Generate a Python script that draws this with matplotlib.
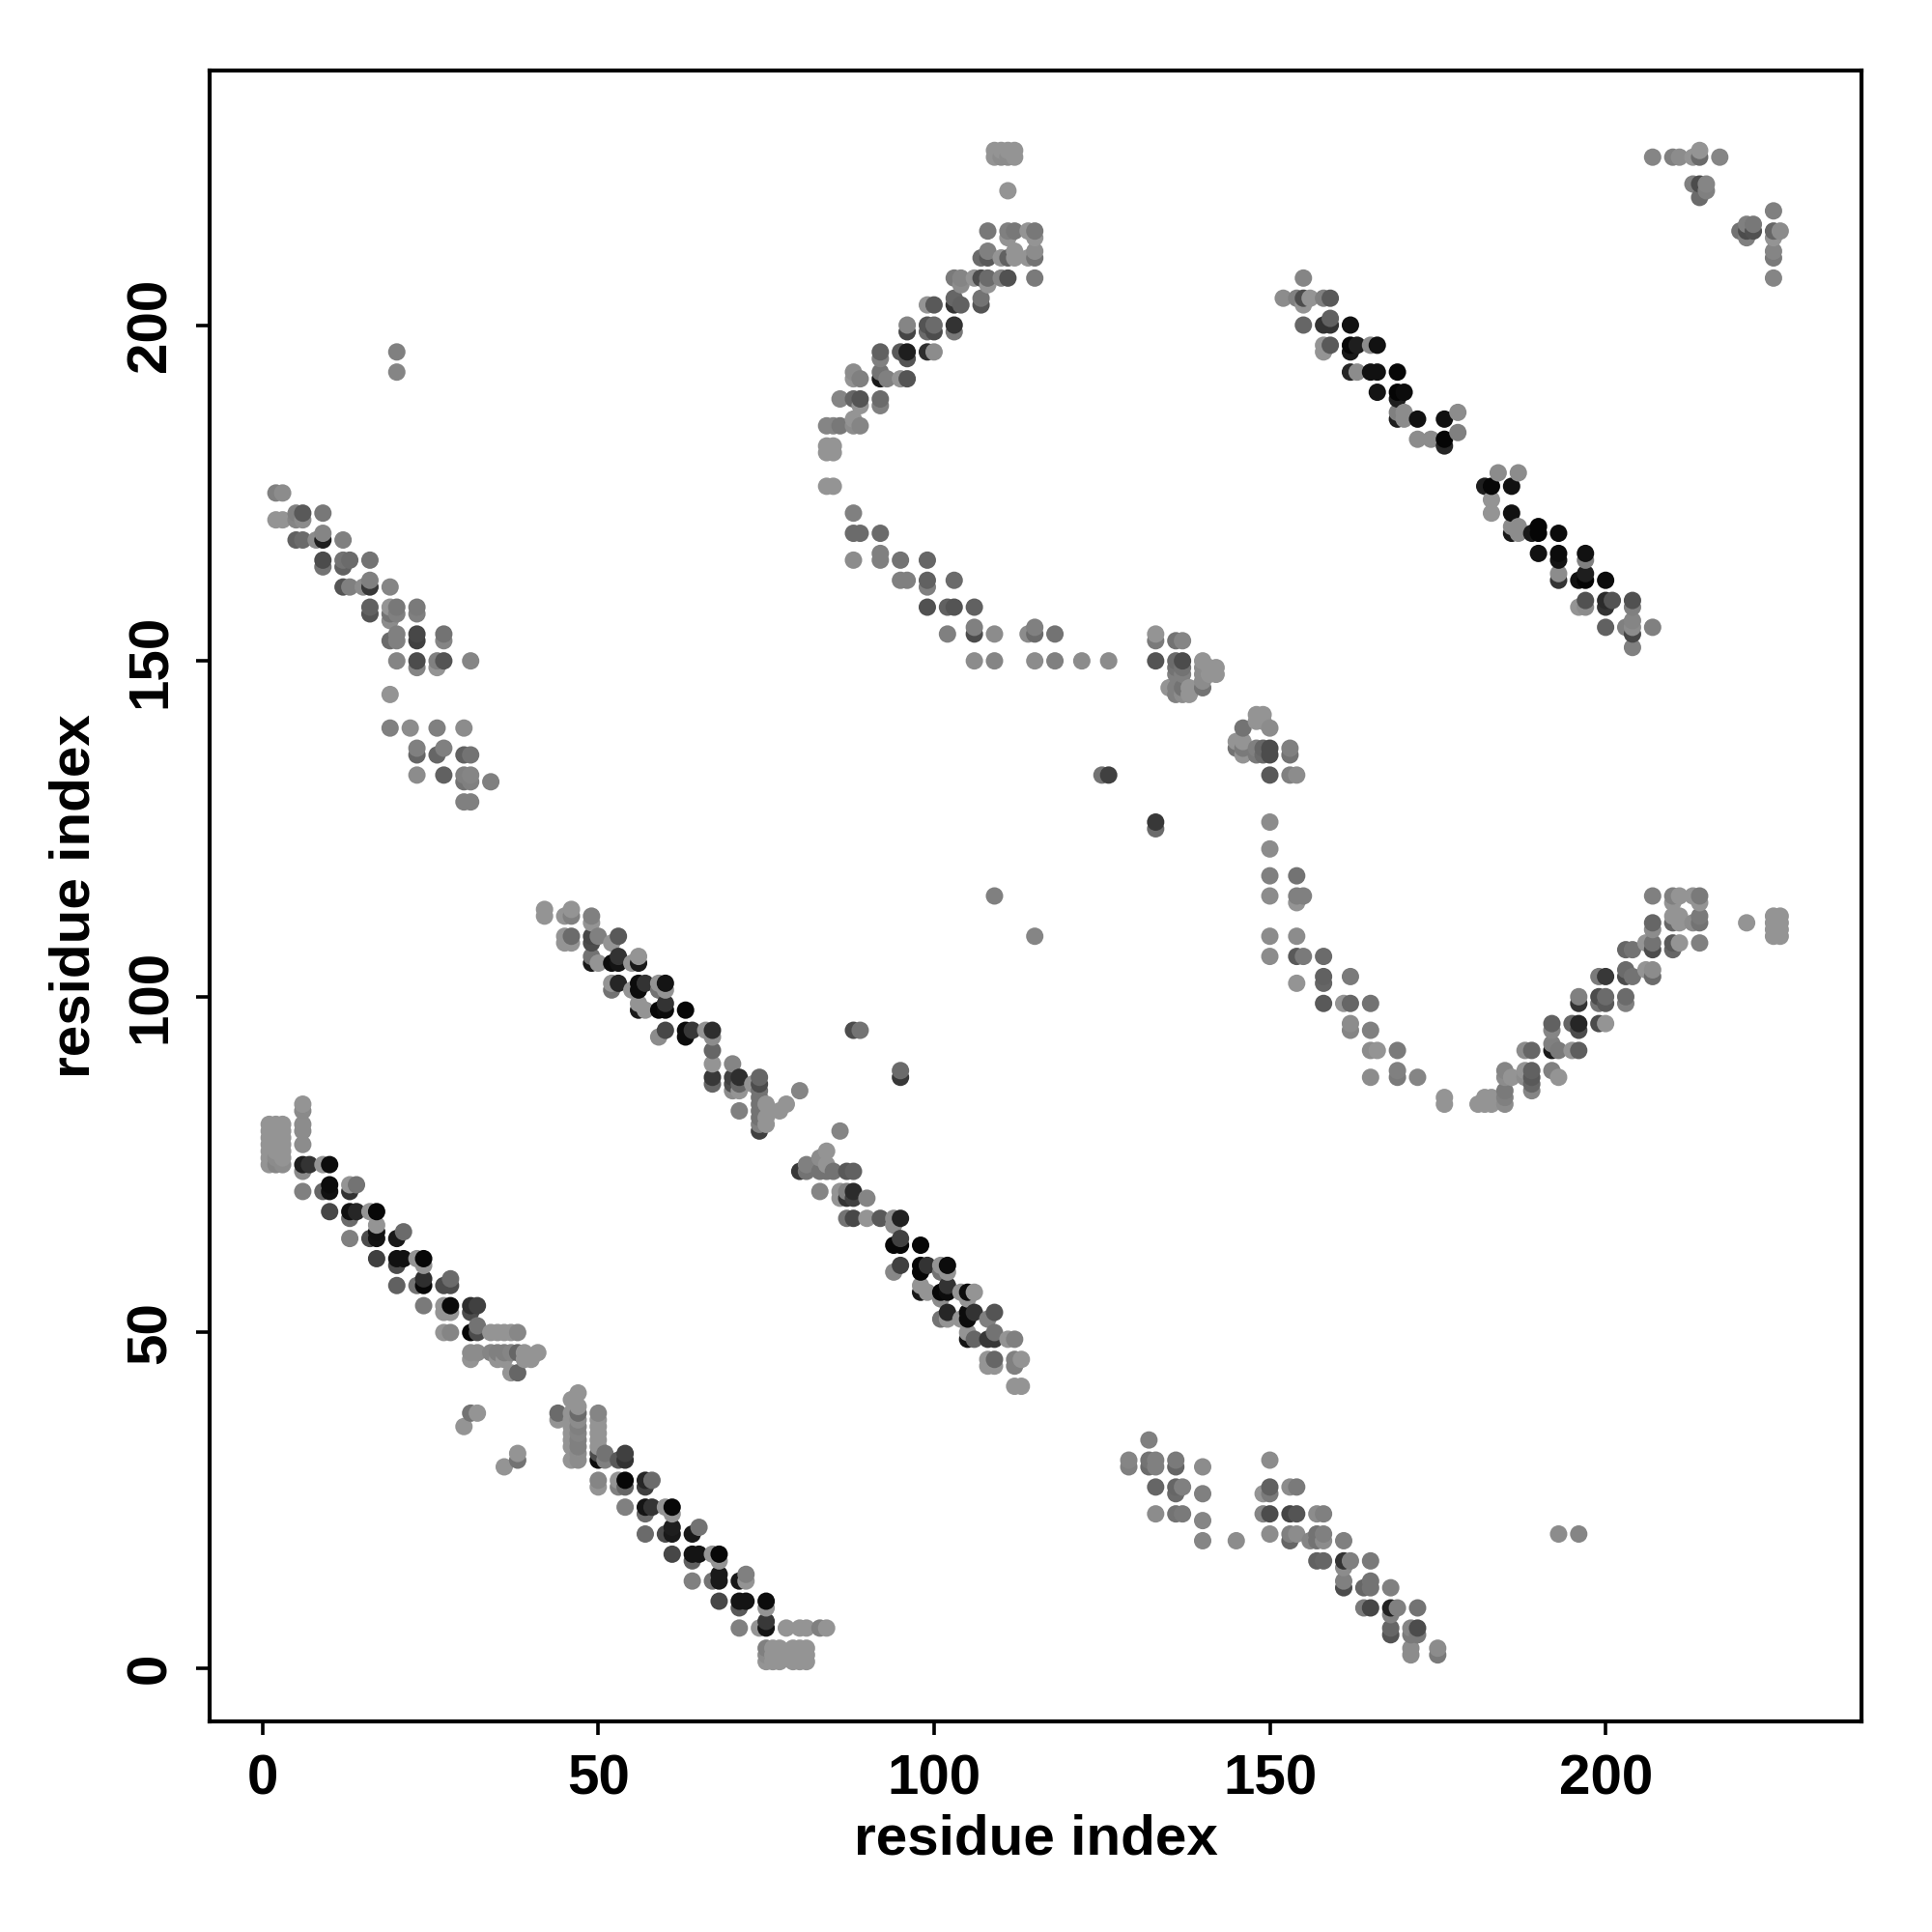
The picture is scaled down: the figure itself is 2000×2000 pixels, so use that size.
import numpy as np
import matplotlib
matplotlib.use("Agg")
import matplotlib.pyplot as plt

plt.rcParams['font.family'] = ['Liberation Sans', 'DejaVu Sans']
plt.rcParams['font.weight'] = 'bold'

L = .58  # lightest grey used by most weak contacts

band_lower_a = [
    (1,81,L),(2,81,L),(3,81,L),(1,80,L),(2,80,L),(3,80,L),(1,79,L),(2,79,L),(3,79,L),(1,78,L),(2,78,L),(3,78,L),
    (1,77,L),(2,77,L),(3,77,L),(1,76,L),(2,76,.55),(3,76,L),(1,75,L),(2,75,.52),(3,75,.55),
    (6,84,L),(6,83,.54),(6,81,.55),(6,80,.55),(6,78,.55),(6,75,.12),(6,74,.54),(6,71,.5),
    (7,75,.2),(9,75,L),(10,75,.05),(10,72,.05),(10,71,.07),(9,71,.4),(10,68,.28),
    (13,72,L),(13,71,.2),(14,72,.45),(13,68,.07),(14,68,.15),(13,67,.42),(16,68,L),(17,68,.03),(17,66,L),
    (17,65,.07),(17,64,.08),(16,64,.3),(13,64,.5),(20,64,.1),(21,65,.42),(17,61,.25),(20,61,.07),(21,61,.07),
    (20,60,.3),(23,61,L),(24,61,.03),(24,60,L),(20,57,.38),(23,57,.45),(24,57,.03),(24,58,.18),
    (27,57,.3),(28,58,.42),(28,57,.3),(24,54,.48),(27,54,L),(28,54,.04),(27,53,L),(28,53,L),
    (31,54,.18),(32,54,.25),(31,53,.3),(27,50,L),(28,50,.52),(31,50,.03),(32,51,.45),(32,50,.3),
    (34,50,L),(35,50,L),(36,50,L),(37,50,L),(38,50,.53),(31,47,.55),(32,47,.55),(31,46,L),
    (34,47,.52),(35,47,.5),(36,47,.5),(35,46,L),(36,46,L),(37,47,.52),(38,47,.4),(39,47,.58),(39,46,L),(40,46,L),(41,47,L),
    (37,44,L),(38,44,.4),(31,38,.45),(32,38,.58),(30,36,L),(36,30,L),(38,32,L),(38,31,.45),
]
band_lower_b = [
    (44,38,.42),(44,37,L),(46,40,L),(47,41,L),(47,39,L),(47,38,.42),(47,37,.55),
    (46,38,L),(46,37,L),(46,36,L),(46,35,L),(46,34,L),(46,33,L),(47,36,.5),(47,35,.52),(47,34,.5),(47,33,.5),
    (46,31,L),(47,31,.55),(47,32,.55),(50,38,.52),(50,37,L),(50,36,L),(50,35,L),(50,34,L),(50,33,L),
    (50,31,.05),(50,32,.3),(51,32,.45),(51,31,.5),(53,31,.35),(54,32,.25),(54,31,.2),
    (50,28,.52),(50,27,L),(53,28,L),(53,27,.5),(54,28,.03),(54,27,.4),(57,28,.15),(58,28,.42),(57,27,.25),
    (54,24,.5),(57,24,.08),(58,24,.2),(57,23,.42),(60,24,L),(61,24,.03),(61,23,L),
    (57,20,.42),(60,20,.3),(61,20,.1),(61,21,.12),(64,20,.1),(65,21,.45),
    (61,17,.28),(64,17,.08),(65,17,.08),(64,16,.38),(67,17,L),(68,17,.03),(68,16,L),
    (64,13,.5),(67,13,.45),(68,13,.1),(68,14,.1),(71,13,.1),(72,14,.5),(72,13,L),
    (68,10,.28),(71,10,.08),(72,10,.08),(71,9,.35),(75,10,.05),(75,9,L),
    (71,6,.5),(74,6,L),(75,6,.08),(75,7,.22),(78,6,L),(80,6,L),(81,6,L),(83,6,.5),(84,6,L),
    (75,3,.5),(75,2,.55),(75,1,L),(76,3,L),(76,2,L),(76,1,L),(77,3,L),(77,2,L),(77,1,L),
    (79,3,L),(79,2,L),(79,1,L),(80,3,L),(80,2,L),(80,1,L),(81,3,L),(81,2,L),(81,1,L),
]
band_middle_a = [
    (42,113,L),(42,112,L),(45,112,L),(46,113,L),(46,112,.5),(49,112,.5),(49,111,L),
    (45,109,L),(45,108,L),(46,109,.42),(46,108,L),(49,109,.28),(49,108,.3),(50,109,.5),(52,108,L),(53,109,.35),
    (49,106,.45),(49,105,.1),(50,105,L),(52,105,.05),(53,105,.08),(53,106,.2),(55,105,L),(56,105,.1),(56,106,L),
    (52,102,L),(52,101,.45),(53,102,.15),(55,101,L),(56,101,.05),(56,102,.05),(57,102,.2),(59,102,L),(59,101,.45),(60,102,.08),(60,101,L),
    (56,98,.1),(56,99,L),(57,98,L),(59,98,.03),(60,98,.05),(60,99,.2),(63,98,.03),
    (60,95,.28),(59,94,.55),(63,95,.05),(63,94,.05),(64,95,.22),(66,95,L),(67,95,.18),(67,94,.55),
    (67,92,.4),(67,90,L),(67,88,.22),(67,87,.4),(70,90,.52),(70,88,.25),(70,87,.3),(70,86,.55),
    (71,88,.18),(71,86,L),(71,87,.4),(71,83,.5),(73,87,L),(74,88,.4),(74,87,.3),(74,86,.45),(74,85,.45),(74,84,.45),(74,83,.45),(74,82,.45),
    (74,81,.5),(74,80,.25),(75,84,L),(75,82,L),(75,81,L),(77,83,L),(78,84,L),(80,86,.52),
    (88,95,.3),(89,95,.45),(95,89,.42),(95,88,.22),
]
band_middle_b = [
    (86,80,.52),(84,77,L),(83,76,.55),(80,74,.22),(81,75,.5),(81,74,.45),(83,74,.45),(84,75,L),(84,74,.45),(85,74,.45),(87,74,.35),(88,74,.38),
    (83,71,.52),(86,71,L),(86,70,L),(87,71,.5),(87,70,.2),(88,71,.17),(88,70,.25),(90,70,.52),
    (87,67,.45),(88,67,.28),(90,67,L),(92,67,.35),(94,67,.55),(94,66,.55),(95,67,.13),
    (94,63,.03),(95,63,.03),(95,64,.25),(98,63,.03),(94,59,.53),(95,60,.25),(98,60,.03),(98,59,.03),(99,60,.2),
    (101,60,L),(101,59,.45),(102,60,.05),(102,59,L),(98,56,.1),(98,57,L),(99,56,L),(101,56,.03),(101,55,.55),
    (102,56,.05),(102,57,.2),(104,56,L),(105,56,.05),(106,56,L),(105,55,L),
    (101,52,.45),(102,53,.15),(102,52,L),(104,52,L),(105,52,.05),(105,53,.05),(106,53,.2),(108,52,.5),(109,53,.33),
    (105,49,.08),(105,50,L),(106,49,.4),(108,49,.22),(109,49,.22),(109,50,.45),(111,49,L),(112,49,.5),
    (108,46,L),(108,45,L),(109,46,.4),(109,45,L),(112,45,.5),(112,46,.5),(113,46,L),(112,42,L),(113,42,L),
]
cluster_bottom_right = [
    (132,34,.5),(129,31,.52),(129,30,.5),(132,31,.45),(133,31,.5),(132,30,.42),(133,30,.5),(136,31,.48),(136,30,.4),(140,30,.55),
    (133,27,.4),(136,27,.4),(136,26,.42),(137,27,.5),(140,26,.5),(133,23,.55),(136,23,.45),(137,23,.48),(140,22,.52),
    (140,19,.52),(145,19,.55),(150,31,.55),(149,26,L),(150,27,.38),(150,26,.48),(153,27,.55),(154,27,.48),
    (149,23,.52),(150,23,.3),(153,23,.27),(154,23,.33),(157,23,.55),(158,23,.5),
    (150,20,.55),(153,20,.5),(153,19,.4),(154,20,.55),(156,19,.52),(157,20,.45),(157,19,.45),(158,20,.5),(158,19,.55),(161,19,.5),
    (157,16,.38),(158,16,.4),(161,16,.2),(162,16,.5),(165,16,.48),(161,15,.55),(161,13,.5),(161,12,.3),
    (164,12,.4),(165,13,.45),(165,12,.45),(168,12,.5),(164,9,.48),(165,9,.28),(168,9,.13),(169,9,.5),(168,8,.5),(172,9,.45),
    (168,6,.4),(168,5,.33),(171,6,.52),(171,5,.48),(172,6,.3),(172,5,.48),(171,3,.55),(171,2,.55),(175,3,.55),(175,2,.48),
    (193,20,.55),(196,20,.52),
]
curve_right = [
    (150,126,.55),(150,122,.55),(150,118,.5),(150,115,.55),(150,109,.55),(150,106,.55),
    (154,118,.45),(154,115,.5),(154,114,L),(154,109,.55),(154,106,.35),(154,102,L),(155,115,.5),(155,106,.48),
    (158,106,.42),(158,103,.38),(158,102,.4),(158,99,.35),(162,103,.48),(161,99,L),(162,99,.4),(162,96,.55),(162,95,.52),
    (165,99,.45),(165,95,.5),(165,92,.55),(166,92,L),(169,92,.48),(169,89,.5),(169,88,.48),(165,88,.55),(172,88,.52),
    (176,85,L),(176,84,L),(181,84,L),(182,85,L),(182,84,L),(183,85,L),(183,84,L),
    (185,89,.52),(185,88,.55),(185,86,.48),(185,85,.5),(185,84,.55),(186,88,L),
    (188,88,.55),(188,89,L),(189,89,.38),(189,88,.35),(189,87,.4),(189,86,.52),(192,89,.5),(193,88,L),
    (188,92,.55),(189,92,.4),(192,92,.1),(192,93,.5),(193,92,.48),(195,92,L),(196,92,.37),
    (192,96,.38),(192,95,.52),(195,96,.4),(196,96,.15),(196,95,.3),(199,96,.3),(200,96,L),
    (196,100,.5),(196,99,.2),(199,99,.45),(199,100,.3),(200,100,.42),(200,99,.35),(203,99,.5),(203,100,.42),
    (199,103,.48),(200,103,.22),(203,103,.3),(203,104,.42),(204,103,.45),(206,104,L),(207,104,.55),(207,103,.42),
    (203,107,.4),(204,107,.45),(206,108,L),(207,108,.45),(207,107,.3),(210,108,.35),(211,108,L),(210,107,.4),(214,108,.5),
    (207,111,.4),(207,110,.55),(210,111,.4),(210,112,L),(211,112,L),(211,111,L),(213,111,.55),(214,112,.48),(214,111,.45),(221,111,L),
    (207,115,.5),(210,115,.5),(210,114,L),(211,115,L),(213,115,L),(214,115,.48),(214,114,L),
    (225,112,L),(225,111,L),(225,110,L),(225,109,L),(226,112,L),(226,111,L),(226,110,L),(226,109,L),
]
band_upper_right = [
    (155,207,.52),(152,204,.55),(154,204,.5),(155,204,.3),(156,204,L),(158,204,.5),(159,204,.35),(155,203,L),
    (155,200,.4),(158,200,.2),(159,200,.2),(159,201,.38),(162,200,.07),
    (158,197,L),(158,196,L),(159,197,.35),(162,197,.03),(162,196,.1),(163,197,.12),(165,197,.55),(166,197,.07),
    (162,193,.15),(163,193,.55),(165,193,.07),(166,193,.07),(169,193,.03),
    (166,190,.08),(169,190,.02),(170,190,.05),(169,189,.12),(169,186,.12),(169,187,.5),(170,187,.55),(170,186,.55),
    (172,186,.07),(176,186,.07),(178,187,.55),(172,183,.55),(174,183,.55),(176,183,.02),(176,182,.15),(178,184,.5),
    (184,178,.55),(187,178,.55),(182,176,.12),(183,176,.03),(186,176,.07),(183,174,L),(183,172,L),
    (186,172,.07),(186,169,.1),(186,170,.55),(187,170,.55),(187,169,.55),(189,169,.1),(190,170,.02),(190,169,.02),(193,169,.05),
    (190,166,.07),(193,166,.05),(193,165,.08),(197,166,.07),(197,165,.5),
    (193,162,.2),(193,163,.55),(196,162,.07),(197,162,.02),(197,163,.12),(200,162,.05),
    (196,158,L),(197,159,.32),(197,158,.55),(200,159,.17),(200,158,.2),(201,159,.33),(204,159,.32),(204,158,.5),
    (200,155,.38),(203,155,.5),(204,156,.52),(204,155,.55),(204,154,.28),(207,155,.5),(204,152,.5),
]
curve_top = [
    (109,226,L),(110,226,L),(111,226,L),(112,226,L),(109,225,L),(110,225,.55),(111,225,.55),(112,225,L),(111,220,L),
    (108,214,.47),(111,214,.5),(112,214,.47),(114,214,L),(115,214,.47),(111,213,L),(115,213,L),
    (107,210,.42),(108,211,.5),(108,210,.35),(110,210,L),(111,210,.38),(112,211,L),(112,210,L),(114,210,L),(115,211,.55),(115,210,.45),
    (103,207,.48),(104,207,.52),(104,206,.55),(106,207,L),(107,207,.3),(108,207,.42),(108,206,L),(110,207,.52),(111,207,.32),(115,207,.48),
    (99,203,L),(100,203,.35),(103,204,.4),(103,203,.2),(104,203,.38),(107,204,.45),(107,203,.33),
    (96,200,.52),(96,199,.27),(99,200,.33),(99,199,.42),(100,200,.42),(100,199,.3),(103,200,.2),(103,199,.47),
    (92,196,.38),(92,195,.5),(95,196,.35),(96,196,.12),(96,195,.33),(99,196,.18),(100,196,.55),
    (88,193,.55),(88,192,L),(89,192,.5),(92,192,.1),(92,193,.45),(93,192,.5),(95,192,L),(96,192,.33),
    (86,189,.52),(88,189,.4),(89,189,.33),(89,188,L),(92,189,.42),(92,188,.5),
    (84,185,.52),(85,185,.52),(86,185,.47),(88,186,L),(88,185,.55),(89,185,.52),
    (84,182,L),(85,182,L),(84,181,L),(85,181,L),(84,176,L),(85,176,L),
]
curve_center = [
    (88,172,.5),(88,169,.42),(89,169,.42),(92,169,.42),(88,165,.55),(92,166,.5),(92,165,.5),(95,165,.45),(99,165,.4),
    (95,162,.5),(96,162,.5),(99,162,.38),(99,161,.5),(103,162,.42),(99,158,.32),(102,158,.38),(103,158,.33),(106,158,.38),
    (102,154,.5),(106,155,.5),(106,154,.3),(109,154,.55),(114,154,.55),(115,155,.5),(115,154,.42),(118,154,.45),
    (106,150,.55),(109,150,.52),(115,150,.55),(118,150,.5),(122,150,.55),(126,150,.55),
    (133,154,L),(133,153,.48),(133,150,.33),(136,153,.45),(137,153,.52),(136,150,.42),(137,150,.3),(136,149,.45),(137,149,.45),
    (136,148,.5),(137,148,.5),(135,146,L),(136,146,.5),(137,146,.45),(136,145,.5),(137,145,.55),(138,146,L),(138,145,L),
    (140,150,L),(140,149,.55),(140,148,.55),(140,147,.55),(140,146,.45),(141,149,L),(141,148,L),(142,149,L),(142,148,L),
    (148,142,L),(149,142,L),(148,141,L),(149,141,L),(146,140,.45),(150,140,.55),(145,138,L),(145,137,.45),
    (146,138,L),(146,137,.48),(146,136,L),(148,137,.5),(148,136,.48),(149,137,.4),(149,136,.42),(150,137,.3),(150,136,.3),
    (153,137,.5),(153,136,.45),(150,133,.35),(153,133,.5),(154,133,.55),(125,133,.45),(126,133,.25),
    (133,126,.22),(133,125,.42),(109,115,.5),(115,109,.52),(20,196,.5),(20,193,.52),
]
band_upper_left = [
    (2,175,.5),(3,175,.55),(2,171,L),(3,171,L),(5,172,.5),(5,171,.52),(6,172,.35),(6,171,.55),(9,172,.47),
    (5,168,.38),(6,168,.42),(8,168,.55),(9,168,.12),(9,169,.52),(12,168,.5),(9,165,.3),(9,164,.45),(12,165,.45),(12,164,.38),(13,165,.42),(16,165,.45),
    (12,161,.33),(13,161,.5),(15,161,.55),(16,161,.22),(16,162,.5),(19,161,.52),(16,158,.38),(16,157,.33),(19,158,L),(19,157,.45),(19,156,.55),
    (20,158,.47),(20,157,.5),(23,158,.48),(23,157,.5),(19,153,.42),(20,154,.5),(20,153,.5),(23,154,.28),(23,153,.25),(27,154,.45),(27,153,.52),
    (20,150,.52),(23,150,.3),(23,149,.52),(26,150,.5),(27,150,.33),(26,149,L),(31,150,.52),(19,145,L),
    (19,140,.5),(22,140,.55),(26,140,.5),(30,140,.55),(23,137,.5),(23,136,.4),(26,136,.4),(27,137,.5),(30,136,.38),(31,136,.45),
    (23,133,.55),(27,133,.38),(30,133,.5),(30,132,.45),(31,133,.52),(31,132,.5),(34,132,.5),(30,129,.5),(31,129,.5),
]
cluster_top_right = [
    (207,225,.52),(210,225,.5),(211,225,.55),(213,225,L),(214,226,L),(214,225,.42),(217,225,.52),
    (213,221,.5),(214,221,.3),(215,221,.52),(215,220,.5),(214,219,.42),
    (220,214,.45),(221,213,.5),(221,215,.5),(222,215,.47),(221,214,.3),(222,214,.32),
    (225,217,.5),(225,214,.4),(226,214,.55),(225,213,L),(225,211,.52),(225,210,.48),(225,207,.52),
]
tick_values = [0, 50, 100, 150, 200]

features = [band_lower_a, band_lower_b, band_middle_a, band_middle_b, cluster_bottom_right,
            curve_right, band_upper_right, curve_top, curve_center, band_upper_left, cluster_top_right]
pts = np.array([p for f in features for p in f])
# points were plotted by increasing x, then y: later ones cover earlier ones
order = np.lexsort((pts[:, 1], pts[:, 0]))
pts = pts[order]

fig = plt.figure(figsize=(10, 10), dpi=200)
ax = fig.add_axes([217/2000, 1 - 1782/2000, (1927-217)/2000, (1782-73)/2000])
ax.scatter(pts[:, 0], pts[:, 1], c=pts[:, 2], cmap='gray', vmin=0, vmax=1, s=42, linewidths=0, clip_on=False)

ax.set_xlim(-7.87, 238.1)
ax.set_ylim(-7.9, 237.9)
ax.set_xticks(tick_values)
ax.set_yticks(tick_values)
ax.tick_params(length=5, width=1.3, labelsize=21, pad=7)
for lab in ax.get_yticklabels():
    lab.set_rotation(90)
    lab.set_va('center')
for s in ax.spines.values():
    s.set_linewidth(1.5)
ax.set_xlabel('residue index', fontsize=21, fontweight='bold', labelpad=3)
ax.set_ylabel('residue index', fontsize=21, fontweight='bold', labelpad=9)

fig.savefig('out.png', dpi=200)
